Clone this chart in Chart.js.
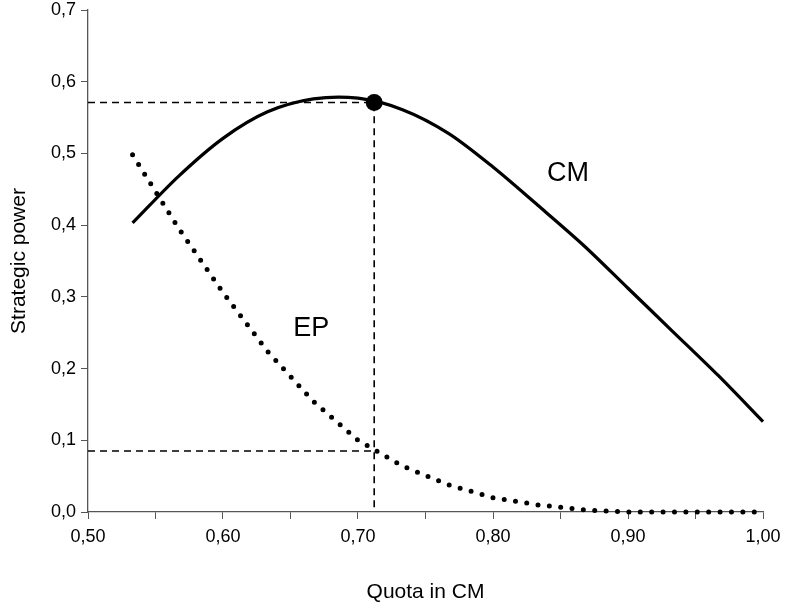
<!DOCTYPE html>
<html>
<head>
<meta charset="utf-8">
<script src="https://cdn.jsdelivr.net/npm/chart.js@4/dist/chart.umd.min.js"></script>
<style>
  html, body { margin: 0; padding: 0; background: #fff; }
  #wrap { width: 786px; height: 608px; }
</style>
</head>
<body>
<div id="wrap"><canvas id="lineChart" width="786" height="608"></canvas></div>
<script>
// quota in CM (x) and strategic power of CM / EP
const quota   = [0.533, 0.567, 0.600, 0.633, 0.667, 0.700, 0.733, 0.767, 0.800, 0.833, 0.867, 0.900, 0.933, 0.967, 1.000]
const cmPower = [0.403, 0.468, 0.521, 0.558, 0.576, 0.577, 0.561, 0.528, 0.481, 0.428, 0.372, 0.312, 0.252, 0.190, 0.126]
const epPower = [0.498, 0.396, 0.306, 0.224, 0.154, 0.100, 0.064, 0.038, 0.020, 0.010, 0.003, 0.000, 0.000, 0.000, 0.000]

// optimal quota and the power values there
const optQuota = [0.712]
const optCM    = [0.571]
const optEP    = [0.085]

const xTicks = [0.50, 0.60, 0.70, 0.80, 0.90, 1.00]
const yTicks = [0.0, 0.1, 0.2, 0.3, 0.4, 0.5, 0.6, 0.7]

// curve labels: text, x, y (data coords)
const curveLabels = [
  { text: "CM", x: 0.840, y: 0.472 },
  { text: "EP", x: 0.652, y: 0.256 }
]

const toPts = (xs, ys) => xs.map((x, i) => ({ x: x, y: ys[i] }))

const labelPlugin = {
  id: "curveLabels",
  afterDatasetsDraw(chart) {
    const ctx = chart.ctx
    const xs = chart.scales.x, ys = chart.scales.y
    ctx.save()
    ctx.fillStyle = "#000"
    ctx.font = "27px 'Liberation Sans', Arial, sans-serif"
    ctx.textAlign = "left"
    ctx.textBaseline = "middle"
    curveLabels.forEach(l => ctx.fillText(l.text, xs.getPixelForValue(l.x), ys.getPixelForValue(l.y)))
    ctx.restore()
  }
}

const dash = [7, 5]
const font = { family: "'Liberation Sans', Arial, sans-serif", size: 18 }

const data = {
  datasets: [
    {
      label: "guide CM",
      data: [{ x: 0.5, y: optCM[0] }, { x: optQuota[0], y: optCM[0] }, { x: optQuota[0], y: 0 }],
      showLine: true, borderColor: "#000", borderWidth: 1.6, borderDash: dash, pointRadius: 0, clip: false
    },
    {
      label: "guide EP",
      data: [{ x: 0.5, y: optEP[0] }, { x: optQuota[0], y: optEP[0] }],
      showLine: true, borderColor: "#000", borderWidth: 1.6, borderDash: dash, pointRadius: 0, clip: false
    },
    {
      label: "EP",
      data: toPts(quota, epPower),
      showLine: true, borderColor: "#000", borderWidth: 5, borderDash: [0, 11.4], borderCapStyle: "round",
      pointRadius: 0, clip: false
    },
    {
      label: "CM",
      data: toPts(quota, cmPower),
      showLine: true, borderColor: "#000", borderWidth: 3.2, pointRadius: 0, clip: false,
      tension: 0.3
    },
    {
      label: "optimum",
      data: toPts(optQuota, optCM),
      showLine: false, pointRadius: 8.5, pointBackgroundColor: "#000", pointBorderWidth: 0, clip: false
    }
  ]
}

const ctx = document.getElementById("lineChart").getContext("2d")
new Chart(ctx, {
  type: "scatter",
  data: data,
  plugins: [labelPlugin],
  options: {
    responsive: false,
    animation: false,
    events: [],
    layout: { padding: { top: 10, right: 23, left: 0, bottom: 0 } },
    plugins: { legend: { display: false }, tooltip: { enabled: false } },
    scales: {
      x: {
        type: "linear", min: 0.5, max: 1.0,
        afterBuildTicks: s => { s.ticks = []; for (let v = 0.5; v <= 1.0001; v += 0.05) s.ticks.push({ value: +v.toFixed(2) }) },
        afterFit: s => { s.height = 96; s.paddingLeft = 0; s.paddingRight = 0 },
        grid: { display: true, drawOnChartArea: false, drawTicks: true, tickLength: 7, color: "#555" },
        border: { display: true, color: "#555", width: 1.3 },
        ticks: {
          color: "#000", font: font, maxRotation: 0, autoSkip: false, padding: 7,
          callback: v => xTicks.some(t => Math.abs(t - v) < 1e-6) ? v.toFixed(2).replace(".", ",") : ""
        },
        title: { display: true, text: "Quota in CM", color: "#000",
                 font: { family: font.family, size: 21 }, padding: { top: 0, bottom: 3 } }
      },
      y: {
        type: "linear", min: 0, max: 0.7,
        afterBuildTicks: s => { s.ticks = yTicks.map(v => ({ value: v })) },
        afterFit: s => { s.width = 88; s.paddingTop = 0; s.paddingBottom = 0 },
        grid: { display: true, drawOnChartArea: false, drawTicks: true, tickLength: 7, color: "#555" },
        border: { display: true, color: "#555", width: 1.3 },
        ticks: { color: "#000", font: font, padding: 5, callback: v => v.toFixed(1).replace(".", ",") },
        title: { display: true, text: "Strategic power", color: "#000",
                 font: { family: font.family, size: 21 }, padding: { top: 7, bottom: 0 } }
      }
    }
  }
})
</script>
</body>
</html>
